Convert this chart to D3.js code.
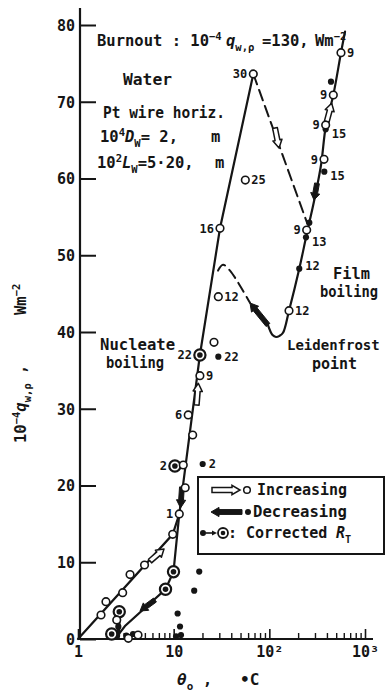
<!DOCTYPE html>
<html>
<head>
<meta charset="utf-8">
<script src="https://cdn.jsdelivr.net/npm/d3@7"></script>
<style>
  html, body { margin: 0; padding: 0; background: #fff; }
  svg text { font-family: "DejaVu Sans Mono", monospace; font-weight: bold; fill: #151515; }
</style>
</head>
<body>
<svg id="chart" width="386" height="692"></svg>
<script>
// ---- Data: surface superheat theta_o (degC) vs heat flux 1e-4 q (W m^-2), Pt wire in water ----

// Open circles: heat flux increasing (run numbers where marked)
const incTheta = [1.74, 1.96, 2.93, 3.50, 4.96, 9.77, 11.45, 13.2, 12.6, 15.8, 14.2, 18.8, 26.4, 29.3, 30.5, 56.1, 68.0,
                  160.6, 245.6, 372.7, 388, 466.4, 561, 2.54, 3.36, 4.24];
const incQ     = [3.13, 4.86, 6.03, 8.40, 9.64, 13.64, 16.29, 19.71, 22.67, 26.58, 29.19, 34.31, 38.66, 44.60, 53.51, 59.80, 73.62,
                  42.78, 53.29, 62.50, 66.97, 70.88, 76.39, 2.48, 0.09, 0.52];
const incRun   = ["", "", "", "", "", "", "1", "", "", "", "6", "9", "", "12", "16", "25", "30",
                  "12", "9", "9", "9", "9", "9", "", "", ""];

// Filled dots: heat flux decreasing
const decTheta = [29.3, 20.1, 18.5, 16.4, 11.0, 11.65, 11.93, 10.6, 2.64, 3.76, 3.2,
                  441, 388, 375.4, 261.6, 241.6, 205.6];
const decQ     = [36.78, 22.80, 8.79, 6.29, 3.32, 1.63, 0.52, 0.35, 1.60, 0.65, 0.45,
                  72.61, 66.41, 60.89, 54.24, 52.34, 48.25];
const decRun   = ["22", "2", "", "", "", "", "", "", "", "", "",
                  "", "15", "15", "", "13", "12"];

// Ringed dots: values with corrected R_T
const corTheta = [18.8, 10.3, 9.96, 8.22, 2.70, 2.25];
const corQ     = [37.0, 22.54, 8.77, 6.48, 3.56, 0.65];
const corRun   = ["22", "2", "", "", "", ""];

// Boiling curves [theta, q]
const nucleateRise   = [[1, 0], [9.77, 13.64], [11.45, 16.29], [18.8, 37.0], [30.5, 53.51], [68.0, 73.62]];
const transitionJump = [[68.0, 73.62], [250, 54.1]];
const filmBranch     = [[96.8, 40.9], [108, 39.6], [117.4, 39.35], [128, 39.5], [139, 39.9], [160.6, 42.78],
                        [205.6, 48.25], [241.6, 52.3], [261.6, 54.24], [300, 57.63], [347, 61.76], [391, 66.97],
                        [466.4, 70.88], [561, 76.39], [618, 79.13]];
const leidenfrostReturn = [[29.1, 48.0], [32.8, 48.75], [38.8, 48.0], [62.8, 43.8]];
const nucleateFall   = [[11.45, 16.29], [9.96, 8.77], [8.22, 6.48], [3.10, 1.69], [2.62, 0.5]];
const lowCluster     = [[2.70, 3.56], [2.64, 0.3]];

// Direction arrows along the curves: [tail, head]
const openArrows = [
  [[5.66, 10.16], [7.92, 11.73]],
  [[17.4, 30.49], [18.1, 33.32]],
  [[114.6, 66.58], [126.3, 63.97]],
  [[397.8, 67.4], [448.6, 69.8]]
];
const filledArrows = [
  [[315, 59.37], [293, 57.2]],
  [[96.8, 40.91], [62.8, 43.78]],
  [[12.2, 19.8], [11.8, 17.07]],
  [[6.38, 5.08], [4.45, 3.65]]
];

// Axis ticks
const yTicks = [0, 10, 20, 30, 40, 50, 60, 70, 80];
const xMajor = [1, 10, 100, 1000];
const xMajorLabels = ["1", "10", "10²", "10³"];
const xMinorSteps = [2, 3, 4, 5, 6, 7, 8, 9];

// ---- Drawing ----
const INK = "#151515";
const svg = d3.select("#chart");
svg.append("rect").attr("width", 386).attr("height", 692).attr("fill", "#fff");

const x = d3.scaleLog().domain([1, 1000]).range([78, 365]);
const y = d3.scaleLinear().domain([0, 80]).range([639, 25]);

// rich text helper: parts with sup / sub / italic segments
function rich(sel, parts, size) {
  const t = sel.append("text").attr("font-size", size);
  let shift = 0;
  parts.forEach(p => {
    const s = t.append("tspan").text(p.t);
    const target = p.sup ? -size * 0.42 : p.sub ? size * 0.3 : 0;
    s.attr("dy", target - shift);
    shift = target;
    if (p.sup || p.sub) s.attr("font-size", size * 0.68);
    if (p.it) s.attr("font-style", "italic");
    if (p.x != null) s.attr("x", p.x);
  });
  return t;
}
// plain text, optionally fitted to a given width
function fitted(sel, xPos, yPos, str, size, width) {
  const t = sel.append("text").attr("x", xPos).attr("y", yPos).attr("font-size", size).text(str);
  if (width) t.attr("textLength", width).attr("lengthAdjust", "spacingAndGlyphs");
  return t;
}

// y axis
const gy = svg.append("g").attr("transform", "translate(80,0)")
  .call(d3.axisLeft(y).tickValues(yTicks).tickSizeInner(-16).tickSizeOuter(0).tickPadding(5));
gy.select(".domain").remove();
gy.selectAll(".tick line").attr("stroke", INK).attr("stroke-width", 2);
gy.selectAll(".tick text").attr("font-size", 15).attr("dy", "0.36em");
svg.append("line").attr("x1", 80).attr("x2", 80).attr("y1", y(0) + 1).attr("y2", y(82.2))
  .attr("stroke", INK).attr("stroke-width", 2.2);

// x axis
const gx = svg.append("g").attr("transform", `translate(0,${y(0)})`)
  .call(d3.axisBottom(x).tickValues(xMajor).tickFormat((d, i) => xMajorLabels[i])
    .tickSizeInner(-10).tickSizeOuter(0).tickPadding(7));
gx.select(".domain").remove();
gx.selectAll(".tick line").attr("stroke", INK).attr("stroke-width", 1.6);
gx.selectAll(".tick text").attr("font-size", 15);
const xMinor = [];
[1, 10, 100].forEach(d => xMinorSteps.forEach(k => xMinor.push(d * k)));
const gxm = svg.append("g").attr("transform", `translate(0,${y(0)})`)
  .call(d3.axisBottom(x).tickValues(xMinor).tickFormat("").tickSizeInner(-6).tickSizeOuter(0));
gxm.select(".domain").remove();
gxm.selectAll(".tick line").attr("stroke", INK).attr("stroke-width", 1.4);
svg.append("line").attr("x1", x(1)).attr("x2", x(1000) + 8).attr("y1", y(0)).attr("y2", y(0))
  .attr("stroke", INK).attr("stroke-width", 2.2);

// curves
const lin = d3.line().x(d => x(d[0])).y(d => y(d[1]));
const smooth = d3.line().x(d => x(d[0])).y(d => y(d[1])).curve(d3.curveCatmullRom.alpha(0.5));
const curves = svg.append("g").attr("fill", "none").attr("stroke", INK).attr("stroke-linecap", "round");
curves.append("path").attr("d", lin(nucleateRise)).attr("stroke-width", 2.2);
curves.append("path").attr("d", lin(transitionJump)).attr("stroke-width", 2).attr("stroke-dasharray", "11,6");
curves.append("path").attr("d", smooth(filmBranch)).attr("stroke-width", 2.2);
curves.append("path").attr("d", smooth(leidenfrostReturn)).attr("stroke-width", 2).attr("stroke-dasharray", "10,6");
curves.append("path").attr("d", lin(nucleateFall)).attr("stroke-width", 2.2);
curves.append("path").attr("d", lin(lowCluster)).attr("stroke-width", 3.5);

// block arrows
function arrowShape(p0, p1) {
  const dx = p1[0] - p0[0], dy = p1[1] - p0[1];
  const L = Math.hypot(dx, dy), ux = dx / L, uy = dy / L, nx = -uy, ny = ux;
  const hl = Math.min(8, L * 0.4), sw = 2.4, hw = 4.6;
  const bx = p1[0] - ux * hl, by = p1[1] - uy * hl;
  const pts = [
    [p0[0] + nx * sw, p0[1] + ny * sw], [bx + nx * sw, by + ny * sw], [bx + nx * hw, by + ny * hw],
    [p1[0], p1[1]],
    [bx - nx * hw, by - ny * hw], [bx - nx * sw, by - ny * sw], [p0[0] - nx * sw, p0[1] - ny * sw]
  ];
  return "M" + pts.map(p => p.join(",")).join("L") + "Z";
}
const px = d => [x(d[0]), y(d[1])];
svg.append("g").selectAll("path").data(openArrows).join("path")
  .attr("d", a => arrowShape(px(a[0]), px(a[1])))
  .attr("fill", "#fff").attr("stroke", INK).attr("stroke-width", 1.5).attr("stroke-linejoin", "round");
svg.append("g").selectAll("path").data(filledArrows).join("path")
  .attr("d", a => arrowShape(px(a[0]), px(a[1])))
  .attr("fill", INK).attr("stroke", INK).attr("stroke-width", 1).attr("stroke-linejoin", "round");

// points
const inc = incTheta.map((t, i) => ({ t, q: incQ[i], run: incRun[i] }));
const dec = decTheta.map((t, i) => ({ t, q: decQ[i], run: decRun[i] }));
const cor = corTheta.map((t, i) => ({ t, q: corQ[i], run: corRun[i] }));

const gp = svg.append("g");
gp.selectAll("circle.cor").data(cor).join("circle").attr("class", "cor")
  .attr("cx", d => x(d.t)).attr("cy", d => y(d.q)).attr("r", 5.6)
  .attr("fill", "#fff").attr("stroke", INK).attr("stroke-width", 2.2);
gp.selectAll("circle.cordot").data(cor).join("circle").attr("class", "cordot")
  .attr("cx", d => x(d.t)).attr("cy", d => y(d.q)).attr("r", 2.8).attr("fill", INK);
gp.selectAll("circle.dec").data(dec).join("circle").attr("class", "dec")
  .attr("cx", d => x(d.t)).attr("cy", d => y(d.q)).attr("r", 3.1).attr("fill", INK);
gp.selectAll("circle.inc").data(inc).join("circle").attr("class", "inc")
  .attr("cx", d => x(d.t)).attr("cy", d => y(d.q)).attr("r", 3.8)
  .attr("fill", "#fff").attr("stroke", INK).attr("stroke-width", 1.6);

// run-number labels: open circles left of the rising film branch, the rest to the right
const leftRuns = new Set(["inc-1", "inc-6", "inc-16", "inc-30", "cor-22", "cor-2"]);
function placeLabels(list, kind) {
  list.forEach(d => {
    if (!d.run) return;
    const cx = x(d.t), cy = y(d.q);
    let left = leftRuns.has(`${kind}-${d.run}`);
    if (kind === "inc" && d.t > 200 && d.t < 500) left = true;
    const off = kind === "cor" ? 8 : 6;
    const nudge = kind === "dec" && d.t > 200 ? (d.run === "12" ? -3 : 4) : 0;
    svg.append("text").attr("font-size", 12)
      .attr("x", left ? cx - off : cx + off).attr("y", cy + 4.3 + nudge)
      .attr("text-anchor", left ? "end" : "start").text(d.run);
  });
}
placeLabels(inc, "inc");
placeLabels(dec, "dec");
placeLabels(cor, "cor");

// annotations
const notes = svg.append("g");
rich(notes.append("g").attr("transform", "translate(97,46)"),
  [{ t: "Burnout : 10" }, { t: "−4", sup: true }, { t: "q", it: true, x: 226 - 97 }, { t: "w,ρ", sub: true },
   { t: "=130,", x: 262 - 97 }, { t: "Wm", x: 315 - 97 }, { t: "−2", sup: true }], 15.5);
fitted(notes, 123, 85, "Water", 16, 49);
fitted(notes, 103, 118, "Pt wire horiz.", 15.5, 122);
rich(notes.append("g").attr("transform", "translate(100,142)"),
  [{ t: "10" }, { t: "4", sup: true }, { t: "D", it: true }, { t: "W", sub: true }, { t: "= 2," },
   { t: "m", x: 111 }], 15.5);
rich(notes.append("g").attr("transform", "translate(97,168)"),
  [{ t: "10" }, { t: "2", sup: true }, { t: "L", it: true }, { t: "W", sub: true }, { t: "=5·20," },
   { t: "m", x: 118 }], 15.5);
fitted(notes, 100, 350, "Nucleate", 16, 75);
fitted(notes, 106, 368, "boiling", 16, 58);
fitted(notes, 287, 350, "Leidenfrost", 14);
fitted(notes, 312, 369, "point", 15);
fitted(notes, 333, 279, "Film", 16, 37);
fitted(notes, 320, 297, "boiling", 16, 58);

// axis titles
rich(svg.append("g").attr("transform", "translate(26,443) rotate(-90)"),
  [{ t: "10" }, { t: "−4", sup: true }, { t: "q", it: true }, { t: "w,ρ", sub: true }, { t: " ," },
   { t: "Wm", x: 128 }, { t: "−2", sup: true }], 15.5);
rich(svg.append("g").attr("transform", "translate(177,685)"),
  [{ t: "θ", it: true }, { t: "o", sub: true }, { t: " ," }, { t: "•C", x: 63 }], 16);

// legend
const lg = svg.append("g");
lg.append("rect").attr("x", 198).attr("y", 477).attr("width", 186).attr("height", 77)
  .attr("fill", "#fff").attr("stroke", INK).attr("stroke-width", 2);
lg.append("path").attr("d", arrowShape([212, 490], [240, 490]))
  .attr("fill", "#fff").attr("stroke", INK).attr("stroke-width", 1.5);
lg.append("circle").attr("cx", 247).attr("cy", 490).attr("r", 3.3)
  .attr("fill", "#fff").attr("stroke", INK).attr("stroke-width", 1.5);
fitted(lg, 257, 495, "Increasing", 16, 90);
lg.append("path").attr("d", arrowShape([242, 512], [211, 512])).attr("fill", INK).attr("stroke", INK);
lg.append("circle").attr("cx", 248).attr("cy", 512).attr("r", 3).attr("fill", INK);
fitted(lg, 253, 517, "Decreasing", 16, 94);
lg.append("circle").attr("cx", 203).attr("cy", 533).attr("r", 3).attr("fill", INK);
lg.append("line").attr("x1", 206).attr("x2", 214).attr("y1", 533).attr("y2", 533)
  .attr("stroke", INK).attr("stroke-width", 1.6);
lg.append("path").attr("d", "M212,530.5L217,533L212,535.5Z").attr("fill", INK);
lg.append("circle").attr("cx", 223).attr("cy", 533).attr("r", 5)
  .attr("fill", "#fff").attr("stroke", INK).attr("stroke-width", 1.8);
lg.append("circle").attr("cx", 223).attr("cy", 533).attr("r", 2.3).attr("fill", INK);
rich(lg.append("g").attr("transform", "translate(228,538)"),
  [{ t: ": Corrected" }, { t: "R", it: true, x: 108 }, { t: "T", sub: true }], 15);
</script>
</body>
</html>
